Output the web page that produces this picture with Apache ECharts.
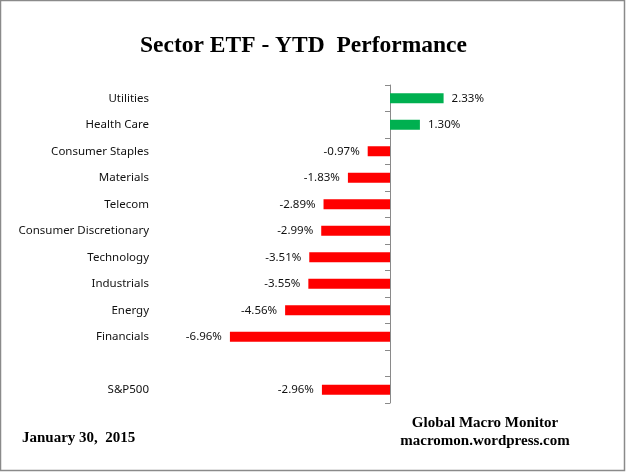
<!DOCTYPE html>
<html><head><meta charset="utf-8">
<script src="https://cdn.jsdelivr.net/npm/echarts@6/dist/echarts.min.js"></script>
<style>html,body{margin:0;padding:0;background:#fff}#c{width:626px;height:472px}</style>
</head><body><div id="c"></div>
<script>
const categories = ["Utilities","Health Care","Consumer Staples","Materials","Telecom","Consumer Discretionary","Technology","Industrials","Energy","Financials","","S&P500"];
const values = [2.33,1.30,-0.97,-1.83,-2.89,-2.99,-3.51,-3.55,-4.56,-6.96,null,-2.96];
const titleText = "Sector ETF - YTD  Performance";
const dateText = "January 30,  2015";
const sourceText = "Global Macro Monitor\nmacromon.wordpress.com";

const chart = echarts.init(document.getElementById('c'));
const data = values.map(v => v === null ? '-' : {
  value: v,
  itemStyle: {color: v >= 0 ? '#00B050' : '#FF0000'},
  label: {position: v >= 0 ? 'right' : 'left'}
});
chart.setOption({
  animation: false,
  title: {
    text: titleText, left: 135, top: 29,
    textStyle: {fontFamily: 'Liberation Serif', fontWeight: 'bold', fontSize: 23.5, color: '#000'}
  },
  graphic: [
    {type: 'rect', shape: {x: 0.5, y: 0.5, width: 624, height: 470}, style: {fill: 'none', stroke: '#8a8a8a', lineWidth: 1.5}},
    {type: 'text', x: 22, y: 431, style: {text: dateText, font: 'bold 15px "Liberation Serif"', fill: '#000'}},
    {type: 'text', x: 485, y: 414, style: {text: sourceText, font: 'bold 15px "Liberation Serif"', fill: '#000', align: 'center', lineHeight: 18}}
  ],
  grid: {left: 206, right: 144, top: 85, bottom: 69, containLabel: false, outerBoundsMode: 'none'},
  xAxis: {type: 'value', min: -8, max: 4, show: false, splitLine: {show: false}},
  yAxis: [{
    type: 'category', data: categories, inverse: true,
    axisLine: {onZero: true, lineStyle: {color: '#8a8a8a', width: 1}},
    axisTick: {show: true, length: 5, lineStyle: {color: '#8a8a8a'}},
    axisLabel: {show: false}
  }, {
    type: 'category', data: categories, inverse: true, position: 'left', offset: 57,
    axisLine: {show: false}, axisTick: {show: false},
    axisLabel: {margin: 0, interval: 0, hideOverlap: false, fontFamily: 'Noto Sans', fontSize: 11.5, color: '#111'}
  }],
  series: [{
    type: 'bar', data: data, barWidth: 10, yAxisIndex: 0,
    label: {show: true, distance: 8, fontFamily: 'Noto Sans', fontSize: 11.5, color: '#111',
      formatter: p => p.value.toFixed(2) + '%'}
  }]
});
</script></body></html>
